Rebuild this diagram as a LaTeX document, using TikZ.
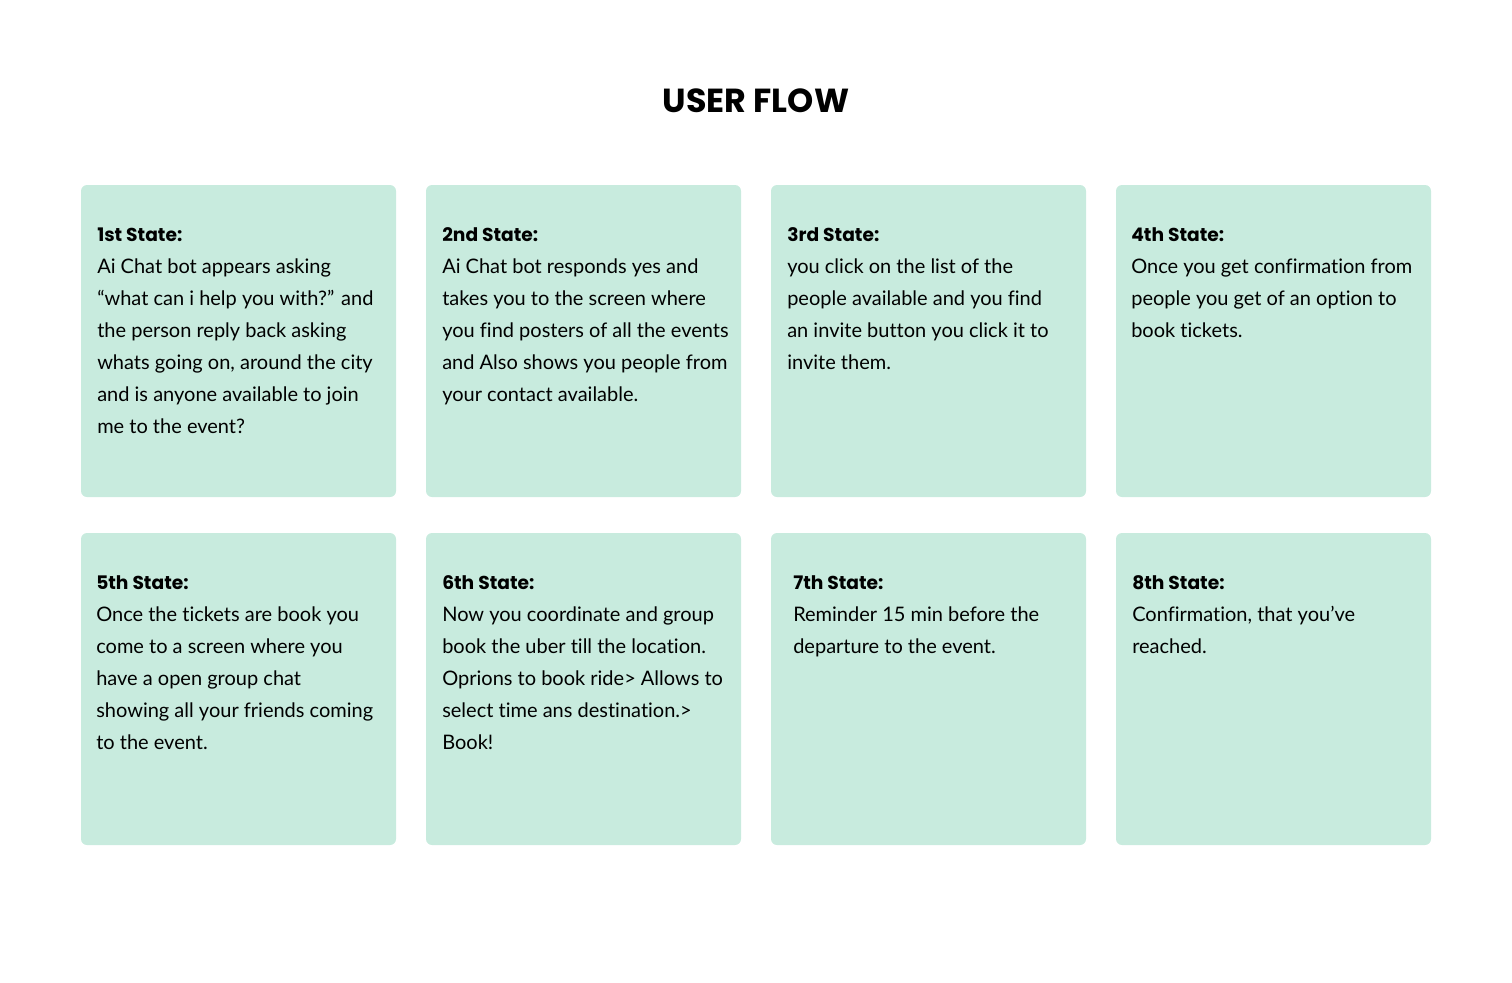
\documentclass[tikz,border=0pt]{standalone}
\usepackage{fontspec}
\setmainfont{Lato}[Ligatures=CommonOff]
\newfontfamily\titlefont{Poppins}
\definecolor{mintbox}{RGB}{200,235,222}
\tikzset{
  statebox/.style={fill=mintbox, draw=none, rounded corners=4.5pt},
  statetext/.style={anchor=north west, inner sep=0pt, align=left, font=\fontsize{15}{24}\selectfont},
}
\newcommand{\sthead}[1]{{\titlefont\bfseries\fontsize{14}{24}\selectfont #1}}

\begin{document}
\begin{tikzpicture}[x=0.75pt,y=0.75pt,yscale=-1,xscale=1]
\useasboundingbox (0,0) rectangle (1512,982);

% Title
\draw (756,101) node [inner sep=0pt] (title) {\titlefont\bfseries\fontsize{25}{30}\selectfont USER FLOW};

%Boxes, first row
\path[statebox] (81,185) rectangle (396,497) coordinate (box1);
\path[statebox] (426,185) rectangle (741,497) coordinate (box2);
\path[statebox] (771,185) rectangle (1086,497) coordinate (box3);
\path[statebox] (1116,185) rectangle (1431,497) coordinate (box4);
%Boxes, second row
\path[statebox] (81,533) rectangle (396,845) coordinate (box5);
\path[statebox] (426,533) rectangle (741,845) coordinate (box6);
\path[statebox] (771,533) rectangle (1086,845) coordinate (box7);
\path[statebox] (1116,533) rectangle (1431,845) coordinate (box8);

% Text Node
\draw (97,228) node [statetext] (txt1) {\sthead{1st State:}\\Ai Chat bot appears asking\\``what can i help you with?'' and\\the person reply back asking\\whats going on, around the city\\and is anyone available to join\\me to the event?};
% Text Node
\draw (442,227) node [statetext] (txt2) {\sthead{2nd State:}\\Ai Chat bot responds yes and\\takes you to the screen where\\you find posters of all the events\\and Also shows you people from\\your contact available.};
% Text Node
\draw (787,227) node [statetext] (txt3) {\sthead{3rd State:}\\you click on the list of the\\people available and you find\\an invite button you click it to\\invite them.};
% Text Node
\draw (1131,227) node [statetext] (txt4) {\sthead{4th State:}\\Once you get confirmation from\\people you get of an option to\\book tickets.};
% Text Node
\draw (96,575) node [statetext] (txt5) {\sthead{5th State:}\\Once the tickets are book you\\come to a screen where you\\have a open group chat\\showing all your friends coming\\to the event.};
% Text Node
\draw (442,575) node [statetext] (txt6) {\sthead{6th State:}\\Now you coordinate and group\\book the uber till the location.\\Oprions to book ride> Allows to\\select time ans destination.>\\Book!};
% Text Node
\draw (793,575) node [statetext] (txt7) {\sthead{7th State:}\\Reminder 15 min before the\\departure to the event.};
% Text Node
\draw (1132,575) node [statetext] (txt8) {\sthead{8th State:}\\Confirmation, that you've\\reached.};

\end{tikzpicture}
\end{document}
